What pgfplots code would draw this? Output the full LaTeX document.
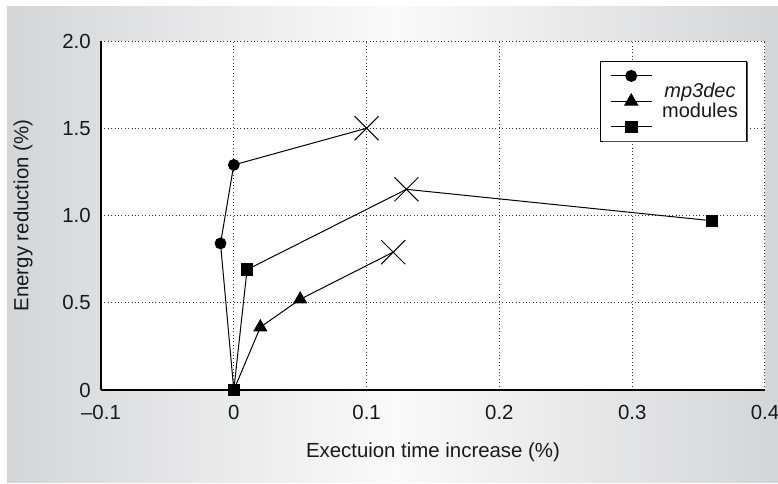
\documentclass[border=0pt]{standalone}
\usepackage{fontspec}
\setmainfont{Liberation Sans}
\usepackage{pgfplots}
\pgfplotsset{compat=1.18}
\definecolor{bgside}{RGB}{212,213,215}
\definecolor{bgmid}{RGB}{250,250,250}
\begin{document}
\begin{tikzpicture}
\useasboundingbox (-50.5pt,-46.5pt) rectangle (338.5pt,195pt);
\shade[left color=bgside, right color=bgside, middle color=bgmid] (-47pt,-46pt) rectangle (338.5pt,191.5pt);
\begin{axis}[
  at={(0,0)}, anchor=south west,
  scale only axis, width=332pt, height=174.5pt,
  xmin=-0.1, xmax=0.4, ymin=0, ymax=2,
  xtick={-0.1,0,0.1,0.2,0.3,0.4},
  xticklabels={–0.1,0,0.1,0.2,0.3,0.4},
  ytick={0,0.5,1,1.5,2},
  yticklabels={0,0.5,1.0,1.5,2.0},
  /pgf/number format/assume math mode=true,
  axis lines*=left,
  axis line style={line width=0.6pt, black},
  major tick length=0pt,
  grid=major,
  grid style={black!80, line width=0.5pt, dash pattern=on 0.5pt off 1.2pt},
  axis background/.style={fill=white},
  clip=false,
  tick label style={font=\fontsize{10.2}{12}\selectfont, black!90},
  xticklabel style={yshift=-4.2pt},
  yticklabel style={xshift=-1.6pt},
  label style={font=\fontsize{10.2}{12}\selectfont, black!90},
  xlabel={Exectuion time increase (\%)},
  ylabel={Energy reduction (\%)},
  xlabel style={at={(axis description cs:0.5,-0.178)}, anchor=center},
  ylabel style={at={(axis description cs:-0.1175,0.5)}, anchor=center},
  legend style={at={(axis description cs:0.9725,0.9436)}, anchor=north east,
    draw=black, line width=0.5pt, fill=white,
    inner xsep=5pt, inner ysep=1pt, row sep=0pt,
    nodes={inner sep=0pt, minimum height=12.75pt}},
  legend image code/.code={\draw[mark repeat=2,mark phase=2] plot coordinates {(0pt,0pt)(10.25pt,0pt)(20.5pt,0pt)};},
]
% lines
\addplot[black, line width=0.5pt, forget plot] coordinates {(0,0) (-0.01,0.84) (0,1.29) (0.1,1.5)};
\addplot[black, line width=0.5pt, forget plot] coordinates {(0,0) (0.02,0.36) (0.05,0.52) (0.12,0.79)};
\addplot[black, line width=0.5pt, forget plot] coordinates {(0,0) (0.01,0.69) (0.13,1.15) (0.36,0.97)};
% markers
\addplot[only marks, mark=*, mark size=2.75pt, black, forget plot] coordinates {(-0.01,0.84) (0,1.29)};
\addplot[only marks, mark=triangle*, mark size=3.7pt, black, forget plot] coordinates {(0.02,0.36) (0.05,0.52)};
\addplot[only marks, mark=square*, mark size=2.9pt, black, forget plot] coordinates {(0,0) (0.01,0.69) (0.36,0.97)};
\addplot[only marks, mark=x, mark size=8.5pt, black, line width=0.5pt, forget plot] coordinates {(0.1,1.5) (0.13,1.15) (0.12,0.79)};
% legend
\addlegendimage{black, line width=0.5pt, mark=*, mark size=2.75pt}
\addlegendentry{\hspace*{42pt}}
\addlegendimage{black, line width=0.5pt, mark=triangle*, mark size=3.7pt}
\addlegendentry{}
\addlegendimage{black, line width=0.5pt, mark=square*, mark size=2.9pt}
\addlegendentry{}
\end{axis}
% legend text and shadow edge
\node[font=\fontsize{10}{10}\selectfont, align=center, black!90] at (299.5pt,145pt) {\textit{mp3dec}\\modules};
\draw[black!70, line width=0.5pt] (323.4pt,164pt) -- (323.4pt,124.1pt) -- (251pt,124.1pt);
\end{tikzpicture}
\end{document}
